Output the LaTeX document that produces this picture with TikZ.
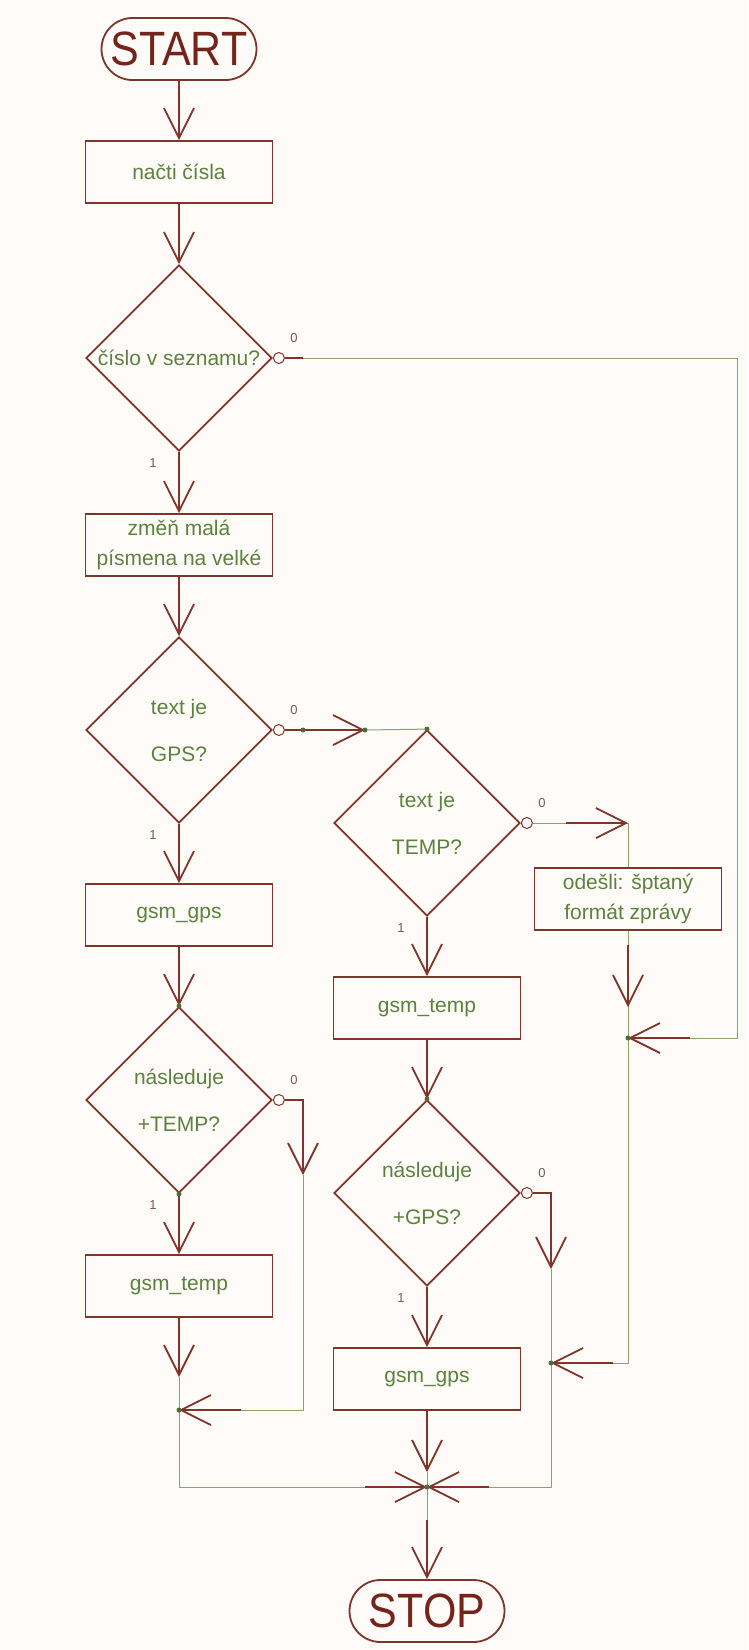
\documentclass[tikz,border=0pt]{standalone}
\usepackage{fontspec}
\usepackage{graphicx}
\setmainfont{Liberation Sans}
\usetikzlibrary{shapes.geometric, arrows.meta}
\definecolor{bg}{RGB}{254,251,248}
\definecolor{brn}{RGB}{128,52,42}
\definecolor{dbrn}{RGB}{116,36,26}
\definecolor{grn}{RGB}{92,130,62}
\definecolor{wgrn}{RGB}{132,164,112}
\definecolor{lblc}{RGB}{125,88,78}
\tikzstyle{terminal} = [rectangle, rounded corners=31pt, minimum width=155pt, minimum height=62pt, draw=brn, line width=1.8pt, text=dbrn, font=\fontsize{43}{43}\selectfont]
\tikzstyle{block} = [rectangle, minimum width=187pt, minimum height=62pt, draw=brn, line width=1.8pt, text=grn, align=center, font=\fontsize{21}{30}\selectfont]
\tikzstyle{decision} = [diamond, minimum width=186pt, minimum height=186pt, inner sep=-3pt, draw=brn, line width=1.8pt, text=grn, align=center, font=\fontsize{21}{47}\selectfont]
\tikzstyle{neg} = [circle, minimum size=11pt, inner sep=0pt, draw=brn, fill=bg, line width=1pt]
\tikzstyle{dot} = [circle, minimum size=5pt, inner sep=0pt, fill=grn!85!black]
\tikzstyle{wire} = [wgrn, line width=1pt]
\tikzstyle{stub} = [brn, line width=1.3pt]
\tikzstyle{arrow} = [brn, line width=1.8pt, -{Straight Barb[length=30pt, width=30pt]}]
\tikzstyle{num} = [text=lblc, font=\fontsize{13}{13}\selectfont]

\begin{document}
\begin{tikzpicture}[x=1pt, y=-1pt]
\fill[bg] (0,0) rectangle (748,1650);

% main column
\node (start) [terminal] at (179,49) {\scalebox{1}[1.12]{START}};
\node (read) [block] at (179,172) {načti čísla};
\node (inlist) [decision] at (179,358) {číslo v seznamu?};
\node (upcase) [block] at (179,545) {změň malá\\písmena na velké};
\node (isgps) [decision] at (179,730) {text je\\GPS?};
\node (gps1) [block] at (179,915) {gsm\_gps};
\node (nexttemp) [decision] at (179,1100) {následuje\\+TEMP?};
\node (temp1) [block] at (179,1286) {gsm\_temp};
% middle column
\node (istemp) [decision] at (427,823) {text je\\TEMP?};
\node (temp2) [block] at (427,1008) {gsm\_temp};
\node (nextgps) [decision] at (427,1193) {následuje\\+GPS?};
\node (gps2) [block] at (427,1379) {gsm\_gps};
\node (stop) [terminal] at (427,1611) {\scalebox{1}[1.12]{STOP}};
% right column
\node (badfmt) [block] at (628,899) {odešli: šptaný\\formát zprávy};

\foreach \d in {inlist,isgps,nexttemp,istemp,nextgps} {
  \node (\d-n) [neg, anchor=west] at (\d.east) {};
  \node (\d-0) [num] at ([xshift=21pt,yshift=20pt]\d.east) {0};
  \node (\d-1) [num] at ([xshift=-26pt,yshift=-11pt]\d.south) {1};
}

% junction points
\coordinate (gpsa) at (303,730);
\coordinate (gpsno) at (365,730);
\coordinate (bfin) at (628,823);
\coordinate (bfout) at (628,1007);
\coordinate (jb) at (628,1038);
\coordinate (rb) at (737,1038);
\coordinate (jbb) at (628,1363);
\coordinate (ntd) at (303,1175);
\coordinate (ntc) at (303,1410);
\coordinate (ngd) at (551,1269);
\coordinate (jr) at (551,1363);
\coordinate (jrb) at (551,1487);
\coordinate (t1out) at (179,1377);
\coordinate (jl) at (179,1410);
\coordinate (jlb) at (179,1487);
\coordinate (g2out) at (427,1472);
\coordinate (jm) at (427,1487);
\coordinate (jmb) at (427,1520);

% green wires
\draw[wire] (inlist-n.east) -| (rb) -- (jb);
\draw[wire] (gpsno) -- (istemp.north);
\draw[wire] (istemp-n.east) -- (bfin) -- (badfmt.north);
\draw[wire] (badfmt.south) -- (jbb) -- (jr);
\draw[wire] (ntd) -- (ntc) -- (jl);
\draw[wire] (t1out) -- (jlb) -- (jm);
\draw[wire] (ngd) -- (jrb) -- (jm);
\draw[wire] (g2out) -- (jmb);

% flow arrows
\draw[arrow] (start) -- (read);
\draw[arrow] (read) -- (inlist);
\draw[arrow] (inlist) -- (upcase);
\draw[arrow] (upcase) -- (isgps);
\draw[arrow] (isgps) -- (gps1);
\draw[arrow] (gps1) -- (nexttemp);
\draw[arrow] (nexttemp) -- (temp1);
\draw[arrow] (istemp) -- (temp2);
\draw[arrow] (temp2) -- (nextgps);
\draw[arrow] (nextgps) -- (gps2);
\draw[arrow] (temp1) -- (t1out);
\draw[arrow] (gps2) -- (g2out);
\draw[arrow] (jmb) -- (stop);

\draw[stub] (inlist-n.east) -- ++(18,0);
\draw[stub] (isgps-n.east) -- (gpsa);
\draw[arrow] (gpsa) -- (gpsno);
\draw[arrow] ([xshift=-62pt]bfin) -- (bfin);
\draw[arrow] ([yshift=62pt]bfout) -- (bfout);
\draw[arrow] ([xshift=62pt]jb) -- (jb);
\draw[stub] (nexttemp-n.east) -| ([yshift=60pt]ntd);
\draw[arrow] ([yshift=60pt]ntd) -- (ntd);
\draw[stub] (nextgps-n.east) -| ([yshift=61pt]ngd);
\draw[arrow] ([yshift=61pt]ngd) -- (ngd);
\draw[arrow] ([xshift=62pt]jr) -- (jr);
\draw[arrow] ([xshift=62pt]jl) -- (jl);
\draw[arrow] ([xshift=-62pt]jm) -- (jm);
\draw[arrow] ([xshift=62pt]jm) -- (jm);

% dots
\foreach \p in {gpsa, gpsno, istemp.north, nexttemp.north, nexttemp.south, nextgps.north, jb, jr, jl, jm}
  \node [dot] at (\p) {};
\end{tikzpicture}
\end{document}
